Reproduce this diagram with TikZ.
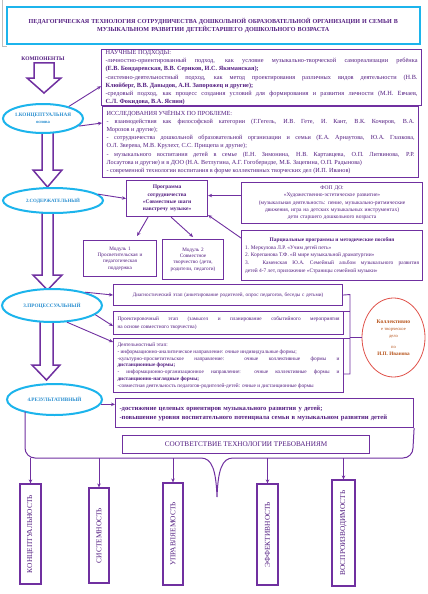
\documentclass[tikz,border=0pt]{standalone}
\usepackage{fontspec}
\setmainfont{Liberation Serif}
\usetikzlibrary{arrows.meta,shapes.geometric,calc}
\definecolor{pur}{HTML}{7030A0}
\definecolor{txt}{HTML}{521C80}
\definecolor{cyanb}{HTML}{1CB4EC}
\definecolor{ctext}{HTML}{2A8FD0}
\definecolor{redb}{HTML}{E0524A}
\definecolor{ktdtxt}{HTML}{B8561E}
\newcommand\myfs[2]{\fontsize{#1}{#2}\selectfont}
\begin{document}
\begin{tikzpicture}[x=1pt,y=-1pt,
  bx/.style={draw=pur, line width=1.1pt, anchor=north west, inner xsep=3.5pt, inner ysep=1pt, text=txt, fill=white},
  ell/.style={ellipse, draw=cyanb, line width=2pt, fill=white, text=ctext, font=\bfseries\myfs{5.2}{6.5}, align=center, inner sep=0pt},
  arr/.style={draw=pur, line width=0.9pt, -{Stealth[length=4pt,width=3.5pt]}},
  barr/.style={draw=pur, line width=1.5pt, fill=white, line join=miter},
  vbox/.style={draw=pur, line width=1.2pt, rotate=90, text=txt, font=\myfs{7.4}{8}, inner sep=0pt, fill=white},
  lnk/.style={draw=pur, line width=0.9pt}]
\useasboundingbox (0,0) rectangle (428,594);
\fill[white] (0,0) rectangle (428,594);

% title
\draw[gray!50, line width=0.8pt] (2,0) -- (2,46) -- (7,46);
\node[bx, draw=cyanb, line width=1.6pt, minimum width=413pt, minimum height=37pt, text width=405pt, align=center, font=\bfseries\myfs{6.1}{8.2}] (title) at (6,6)
 {ПЕДАГОГИЧЕСКАЯ ТЕХНОЛОГИЯ СОТРУДНИЧЕСТВА ДОШКОЛЬНОЙ ОБРАЗОВАТЕЛЬНОЙ ОРГАНИЗАЦИИ И СЕМЬИ В\\ МУЗЫКАЛЬНОМ РАЗВИТИИ ДЕТЕЙСТАРШЕГО ДОШКОЛЬНОГО ВОЗРАСТА};

\node[font=\bfseries\myfs{5.5}{6}, text=txt] (komp) at (43,59) {КОМПОНЕНТЫ};

% block arrows
\draw[barr] (34,63) -- (54,63) -- (54,78) -- (61,78) -- (44,93) -- (27,78) -- (34,78) -- cycle;
\draw[barr] (42,128) -- (53,128) -- (53,170) -- (62,170) -- (47.5,187) -- (33,170) -- (42,170) -- cycle;
\draw[barr] (42,210) -- (53,210) -- (53,275) -- (62,275) -- (47.5,290) -- (33,275) -- (42,275) -- cycle;
\draw[barr] (40,318) -- (53,318) -- (53,365) -- (60,365) -- (46.5,380) -- (32,365) -- (40,365) -- cycle;

% ellipses
\node[ell, minimum width=80pt, minimum height=29pt] (e1) at (43,118.5) {1.КОНЦЕПТУАЛЬНАЯ\\[1pt]{\myfs{4.6}{5}основа}};
\node[ell, minimum width=100pt, minimum height=25pt, font=\bfseries\myfs{4.9}{6}] (e2) at (53,200.5) {2.СОДЕРЖАТЕЛЬНЫЙ};
\node[ell, minimum width=100pt, minimum height=33pt] (e3) at (52,305.5) {3.ПРОЦЕССУАЛЬНЫЙ};
\node[ell, minimum width=95pt, minimum height=31pt] (e4) at (54.5,399.5) {4.РЕЗУЛЬТАТИВНЫЙ};

% conceptual boxes
\node[bx, minimum width=320pt, minimum height=55pt, text width=312pt, align=justify, font=\myfs{6.3}{8.1}] (nauch) at (101,49)
 {НАУЧНЫЕ ПОДХОДЫ:\\
 -личностно-ориентированный подход, как условие музыкально-творческой самореализации ребёнка\linebreak
 \textbf{(Е.В. Бондаревская, В.В. Сериков, И.С. Якиманская);}\\
 -системно-деятельностный подход, как метод проектирования различных видов деятельности (Н.В.\linebreak
 \textbf{Клюйберг, В.В. Давыдов, А.Н. Запорожец и другие);}\\
 -средовый подход, как процесс создания условий для формирования и развития личности (М.Н. Евчаев,\linebreak
 \textbf{С.Л. Фокидова, В.А. Ясвин)}};

\node[bx, minimum width=316pt, minimum height=71pt, text width=308pt, align=justify, font=\myfs{6.2}{8.1}] (issl) at (102,106)
 {ИССЛЕДОВАНИЯ УЧЁНЫХ ПО ПРОБЛЕМЕ:\\
 - взаимодействия как философской категории (Г.Гегель, И.В. Гете, И. Кант, В.К. Кочиров, В.А.\linebreak
 Морозов и другие);\\
 - сотрудничества дошкольной образовательной организации и семьи (Е.А. Арнаутова, Ю.А. Глазкова,\linebreak
 О.Л. Зверева, М.В. Крулехт, С.С. Прищепа и другие);\\
 - музыкального воспитания детей в семье (Е.Н. Зимонина, Н.В. Картавцева, О.П. Литвинова, Р.Р.\linebreak
 Лосаутова и другие) и в ДОО (Н.А. Ветлугина, А.Г. Гогоберидзе, М.Б. Зацепина, О.П. Радынова)\\
 - современной технологии воспитания в форме коллективных творческих дел (И.П. Иванов)};

\draw[arr] (e1.25) -- ($(nauch.south west)+(0,-20)$);
\draw[arr] (e1.-12) -- ($(issl.north west)+(0,17)$);

% content level
\node[bx, minimum width=80pt, minimum height=36pt, text width=74pt, align=center, font=\bfseries\myfs{5.5}{7.2}] (prog) at (126,180)
 {Программа\\сотрудничества\\«Совместные шаги\\навстречу музыке»};
\node[bx, minimum width=180pt, minimum height=41pt, text width=174pt, align=center, font=\myfs{5.5}{7.3}] (fop) at (241,182)
 {ФОП ДО:\\«Художественно-эстетическое развитие»\\(музыкальная деятельность: пение, музыкально-ритмические\\движения, игра на детских музыкальных инструментах)\\дети старшего дошкольного возраста};
\node[bx, minimum width=70pt, minimum height=36pt, text width=66pt, align=center, font=\myfs{5.2}{6.4}] (mod1) at (83,240)
 {Модуль 1\\Просветительская и\\педагогическая\\поддержка};
\node[bx, minimum width=61pt, minimum height=40pt, text width=58pt, inner xsep=1.5pt, align=center, font=\myfs{5.2}{6.4}] (mod2) at (162,239)
 {Модуль 2\\Совместное\\творчество (дети,\\родители, педагоги)};
\node[bx, minimum width=181pt, minimum height=50pt, text width=174pt, align=justify, font=\myfs{5.4}{7.6}] (parc) at (241,230)
 {\hspace*{\fill}\textbf{Парциальные программы и методические пособия}\hspace*{\fill}\\
 1. Меркулова Л.Р. «Учим детей петь»\\
 2. Корепанова Т.Ф. «В мире музыкальной драматургии»\\
 3. Каменская Ю.А. Семейный альбом музыкального развития\linebreak
 детей 4-7 лет, приложение «Страницы семейной музыки»};

\coordinate (aux) at ($(prog.east)+(0,-3)$);
\draw[arr] (e2.8) -- (prog.west);
\draw[arr] (fop.west |- aux) -- (aux);
\draw[arr] ($(prog.south west)+(22,0)$) -- ($(mod1.north east)+(-20,-4)$);
\draw[arr] ($(prog.south)+(4,0)$) -- ($(mod2.north)+(0,-2)$);
\draw[arr] ($(parc.north west)+(0,8)$) -- ($(prog.south east)+(0,-2)$);

% process level
\node[bx, minimum width=229pt, minimum height=21pt, text width=222pt, align=center, font=\myfs{5.15}{6.5}] (diag) at (113,284)
 {Диагностический этап (анкетирование родителей, опрос педагогов, беседы с детьми)};
\node[bx, minimum width=230pt, minimum height=23pt, text width=222pt, align=justify, font=\myfs{5.3}{7.6}] (proj) at (113,311)
 {Проектировочный этап (замысел и планирование событийного мероприятия\linebreak на основе совместного творчества)};
\node[bx, minimum width=230pt, minimum height=54pt, text width=222pt, align=justify, font=\myfs{5.3}{6.8}] (deyat) at (113,338)
 {Деятельностный этап:\\
 - информационно-аналитическое направление: очные индивидуальные формы;\\
 -культурно-просветительское направление: очные коллективные формы и\linebreak \textbf{дистанционные формы;}\\
 - информационно-организационное направление: очные коллективные формы и\linebreak \textbf{дистанционно-наглядные формы;}\\
 -совместная деятельность педагогов-родителей-детей: очные и дистанционные формы};

\node[ellipse, draw=redb, line width=0.8pt, minimum width=63pt, minimum height=79pt, text=ktdtxt, font=\myfs{4.6}{7}, align=center, inner sep=0pt] (ktd) at (393.5,337.5)
 {\textbf{\myfs{5.6}{7}Коллективно}\\е творческое\\дело\\[4pt]по\\\textbf{\myfs{5.2}{7}И.П. Иванова}};

\draw[arr] (e3.22) -- (diag.west);
\draw[arr] (e3.-12) -- ($(proj.west)+(0,3)$);
\draw[arr] (e3.-48) -- ($(deyat.north west)+(0,4)$);

\coordinate (bt) at (350,294.5);
\coordinate (bb) at (350,374);
\draw[lnk] (diag.east) -- (bt) -- (bb) -- (bb -| deyat.east);
\draw[lnk] (proj.north east) -- (proj.north east -| bt);
\draw[lnk] (deyat.north east) -- (deyat.north east -| bt);
\draw[lnk] (bt |- ktd.west) -- (ktd.west);

% result level
\node[bx, minimum width=298pt, minimum height=29pt, text width=290pt, align=left, font=\bfseries\myfs{6.6}{9.2}] (res) at (115,398)
 {-достижение целевых ориентиров музыкального развития у детей;\\-повышение уровня воспитательного потенциала семьи в музыкальном развитии детей};
\draw[arr] (e4.-6) -- (res.west |- e4.-6);

\node[bx, minimum width=247pt, minimum height=18pt, align=center, font=\myfs{7.2}{8}] (sootv) at (122,435)
 {СООТВЕТСТВИЕ ТЕХНОЛОГИИ ТРЕБОВАНИЯМ};

% brace
\coordinate (bl) at (25,411.6);
\coordinate (bline) at (0,458);
\draw[pur, line width=1pt] (bl) -- (25,448) to[out=-90,in=180] (35,458) -- (201,458)
  .. controls (212,458) and (216,470) .. (217,497)
  .. controls (218,470) and (222,458) .. (233,458) -- (403,458) to[out=0,in=-90] (413,448) -- (res.south east);

% requirement boxes
\node[vbox, minimum width=100pt, minimum height=21pt] (vb1) at (30.5,534) {КОНЦЕПТУАЛЬНОСТЬ};
\node[vbox, minimum width=95pt, minimum height=20pt] (vb2) at (99,535.5) {СИСТЕМНОСТЬ};
\node[vbox, minimum width=102pt, minimum height=20pt] (vb3) at (173,534) {УПРАВЛЯЕМОСТЬ};
\node[vbox, minimum width=101pt, minimum height=21pt] (vb4) at (267.5,534.5) {ЭФФЕКТИВНОСТЬ};
\node[vbox, minimum width=106pt, minimum height=23pt] (vb5) at (343.5,533) {ВОСПРОИЗВОДИМОСТЬ};

\foreach \b in {vb1,vb2,vb3,vb4,vb5}
  \draw[arr] (\b.east |- bline) -- (\b.east);
\end{tikzpicture}
\end{document}
